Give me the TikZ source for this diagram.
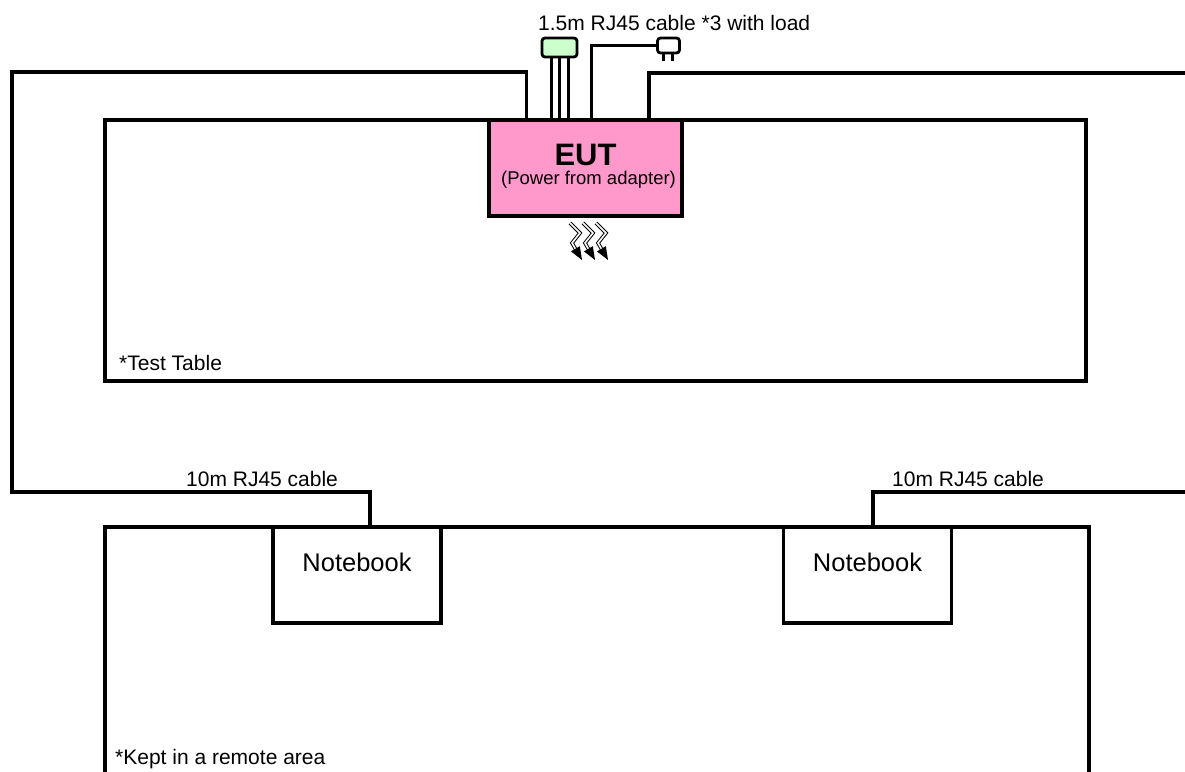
\documentclass[tikz,border=0pt]{standalone}
\usepackage{fontspec}
\setmainfont{Liberation Sans}
\usetikzlibrary{arrows.meta, calc}
\definecolor{eutpink}{RGB}{255,153,204}
\definecolor{rjgreen}{RGB}{204,255,204}
\tikzset{
  tablebox/.style={draw, line width=3.5pt, inner sep=0pt},
  nbbox/.style={draw, fill=white, line width=3.2pt, minimum width=168pt, minimum height=96pt, inner sep=0pt},
  lbl/.style={inner sep=0pt, font=\fontsize{21}{25}\selectfont},
  cable/.style={line width=3.5pt},
  bolt/.style={line width=1pt, double=white, double distance=1.6pt, -{Triangle[length=13pt,width=10pt]}}
}

\begin{document}
\begin{tikzpicture}[x=1pt, y=-1pt]
\useasboundingbox (0,0) rectangle (1185,771);
\node[tablebox, minimum width=981pt, minimum height=261pt] (testtable) at (595.5,250.5) {};
\node[tablebox, minimum width=984pt, minimum height=300pt] (remotetable) at (597,677) {};
\node[nbbox] (nb1) at (357,575) {};
\node[nbbox] (nb2) at (867.5,575) {};
\path
(nb1.north) ++(0,46) node[anchor=base, inner sep=0pt, font=\fontsize{25.5}{30}\selectfont] (nb1txt) {Notebook};
\path
(nb2.north) ++(0,46) node[anchor=base, inner sep=0pt, font=\fontsize{25.5}{30}\selectfont] (nb2txt) {Notebook};
\node[draw, fill=eutpink, line width=3.5pt, minimum width=193pt, minimum height=96pt, inner sep=0pt] (eut) at (585.5,168) {};
\path
(585.5,165) node[anchor=base, inner sep=0pt, font=\bfseries\fontsize{31}{34}\selectfont] (euttxt) {EUT};
\path
(588.5,184) node[anchor=base, inner sep=0pt, font=\fontsize{18.5}{20}\selectfont] (eutnote) {(Power from adapter)};
% cables to the notebooks
\draw[cable] ($(eut.north west)+(39,0)$) |- (12,72) -- (12,492) -| ($(nb1.north)+(13,0)$);
\draw[cable] ($(eut.north east)+(-35,0)$) |- (1190,73);
\draw[cable] (1190,492) -| ($(nb2.north)+(5.5,0)$);
% cables with load
\node[draw, fill=rjgreen, line width=2.8pt, rounded corners=3pt, minimum width=35pt, minimum height=19pt, inner sep=0pt] (rj) at (559.5,47.5) {};
\foreach \dx in {-8.5,0,8.5}
  \draw[line width=3pt] ($(rj.south)+(\dx,0)$) -- ++(0,63);
\node[draw, fill=white, line width=2.8pt, rounded corners=3pt, minimum width=22pt, minimum height=15pt, inner sep=0pt] (plug) at (668.5,45.5) {};
\draw[cable] ($(eut.north west)+(104,0)$) |- (plug.west);
\draw[line width=2.8pt] ($(plug.south)+(-5,0)$) -- ++(0,7);
\draw[line width=2.8pt] ($(plug.south)+(4,0)$) -- ++(0,7);
% emission
\foreach \dx in {0,13,26}
  \draw[bolt] (570+\dx,223) -- (580+\dx,233) -- (572+\dx,243) -- (582+\dx,260);
% labels
\path
(538,30) node[lbl, anchor=base west] (toplbl) {1.5m RJ45 cable *3 with load};
\path
(186,486) node[lbl, anchor=base west] (lcablbl) {10m RJ45 cable};
\path
(892,486) node[lbl, anchor=base west] (rcablbl) {10m RJ45 cable};
\path
(119,370) node[lbl, anchor=base west] (testlbl) {*Test Table};
\path
(115,764) node[lbl, anchor=base west] (remotelbl) {*Kept in a remote area};
\end{tikzpicture}
\end{document}
